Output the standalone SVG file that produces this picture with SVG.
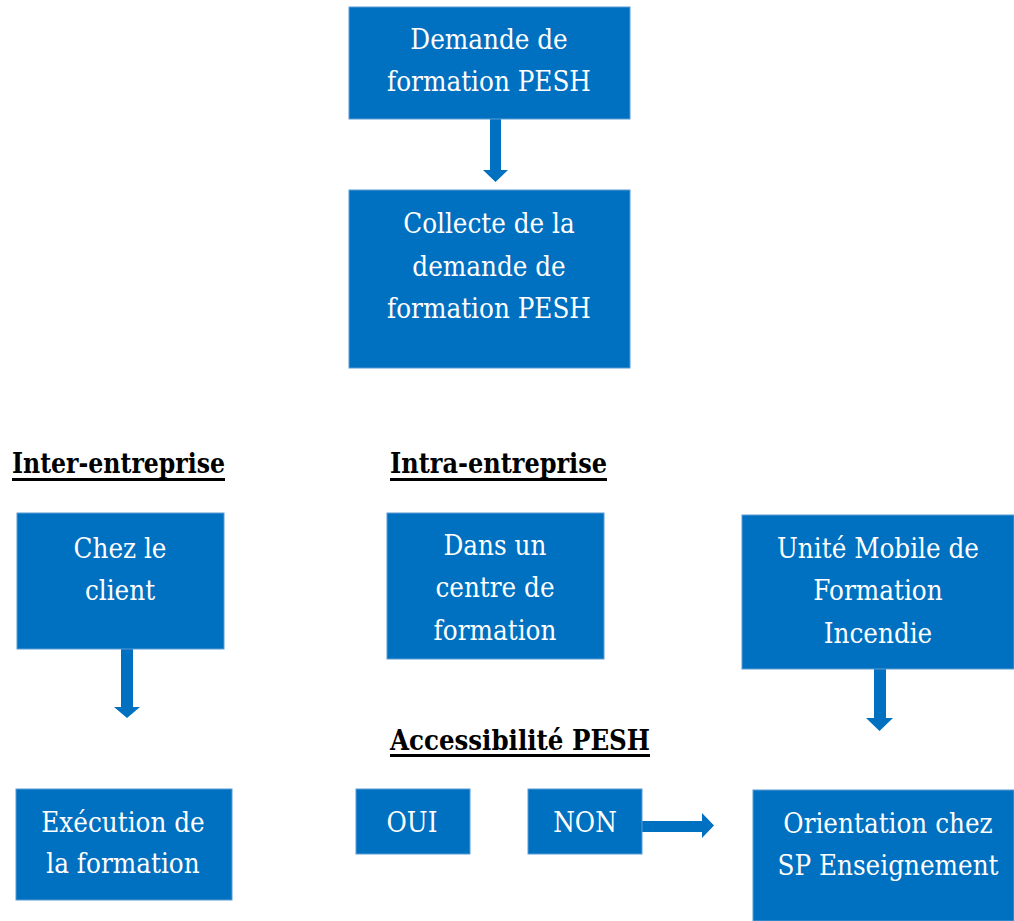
<svg xmlns="http://www.w3.org/2000/svg" width="1014" height="921" viewBox="0 0 1014 921">
<style>
.box{fill:#0070C0;stroke:#5B9BD5;stroke-width:1}
.t{font-family:'DejaVu Serif Condensed','DejaVu Serif','Liberation Serif',serif;font-size:27.5px;fill:#FFFFFF;text-anchor:middle}
.h{font-family:'DejaVu Serif Condensed','DejaVu Serif','Liberation Serif',serif;font-size:28px;font-weight:bold;fill:#000000}
.ul{fill:#000000}
.arr{fill:#0070C0}
</style>
<rect width="1014" height="921" fill="#FFFFFF"/>
<g id="connectors">
<path class="arr" d="M490,119 H501 V170 H508 L495.5,182 L483,170 H490 Z"/>
<path class="arr" d="M121,649 H133 V707 H140 L127,718 L114,707 H121 Z"/>
<path class="arr" d="M874,669 H886 V718 H893 L879.5,731 L866,718 H874 Z"/>
<path class="arr" d="M642,821 H702 V813 L714,825.5 L702,838 V832 H642 Z"/>
</g>
<g id="n1">
<rect class="box" x="349" y="7" width="281" height="112"/>
<text class="t" x="489" y="49">Demande de</text>
<text class="t" x="489" y="91">formation PESH</text>
</g>
<g id="n2">
<rect class="box" x="349" y="190" width="281" height="178"/>
<text class="t" x="489" y="233">Collecte de la</text>
<text class="t" x="489" y="276">demande de</text>
<text class="t" x="489" y="318">formation PESH</text>
</g>
<g id="h-inter">
<text class="h" x="12" y="473" textLength="213" lengthAdjust="spacingAndGlyphs">Inter-entreprise</text>
<rect class="ul" x="12" y="478" width="213" height="3"/>
</g>
<g id="h-intra">
<text class="h" x="390" y="473" textLength="217" lengthAdjust="spacingAndGlyphs">Intra-entreprise</text>
<rect class="ul" x="390" y="478" width="217" height="3"/>
</g>
<g id="n-client">
<rect class="box" x="17" y="513" width="207" height="136"/>
<text class="t" x="120" y="558">Chez le</text>
<text class="t" x="120" y="600">client</text>
</g>
<g id="n-centre">
<rect class="box" x="387" y="513" width="217" height="146"/>
<text class="t" x="495" y="555">Dans un</text>
<text class="t" x="495" y="597">centre de</text>
<text class="t" x="495" y="640">formation</text>
</g>
<g id="n-unite">
<rect class="box" x="742" y="515" width="272" height="154"/>
<text class="t" x="878" y="558">Unité Mobile de</text>
<text class="t" x="878" y="600">Formation</text>
<text class="t" x="878" y="643">Incendie</text>
</g>
<g id="h-access">
<text class="h" x="390" y="750" textLength="260" lengthAdjust="spacingAndGlyphs">Accessibilité  PESH</text>
<rect class="ul" x="390" y="754" width="260" height="3"/>
</g>
<g id="n-exec">
<rect class="box" x="16" y="789" width="216" height="111"/>
<text class="t" x="123" y="832">Exécution de</text>
<text class="t" x="123" y="873">la formation</text>
</g>
<g id="n-oui">
<rect class="box" x="356" y="789" width="114" height="65"/>
<text class="t" x="412" y="832">OUI</text>
</g>
<g id="n-non">
<rect class="box" x="528" y="789" width="114" height="65"/>
<text class="t" x="585" y="832">NON</text>
</g>
<g id="n-orient">
<rect class="box" x="753" y="790" width="261" height="131"/>
<text class="t" x="888" y="833">Orientation chez</text>
<text class="t" x="888" y="875">SP Enseignement</text>
</g>
</svg>
